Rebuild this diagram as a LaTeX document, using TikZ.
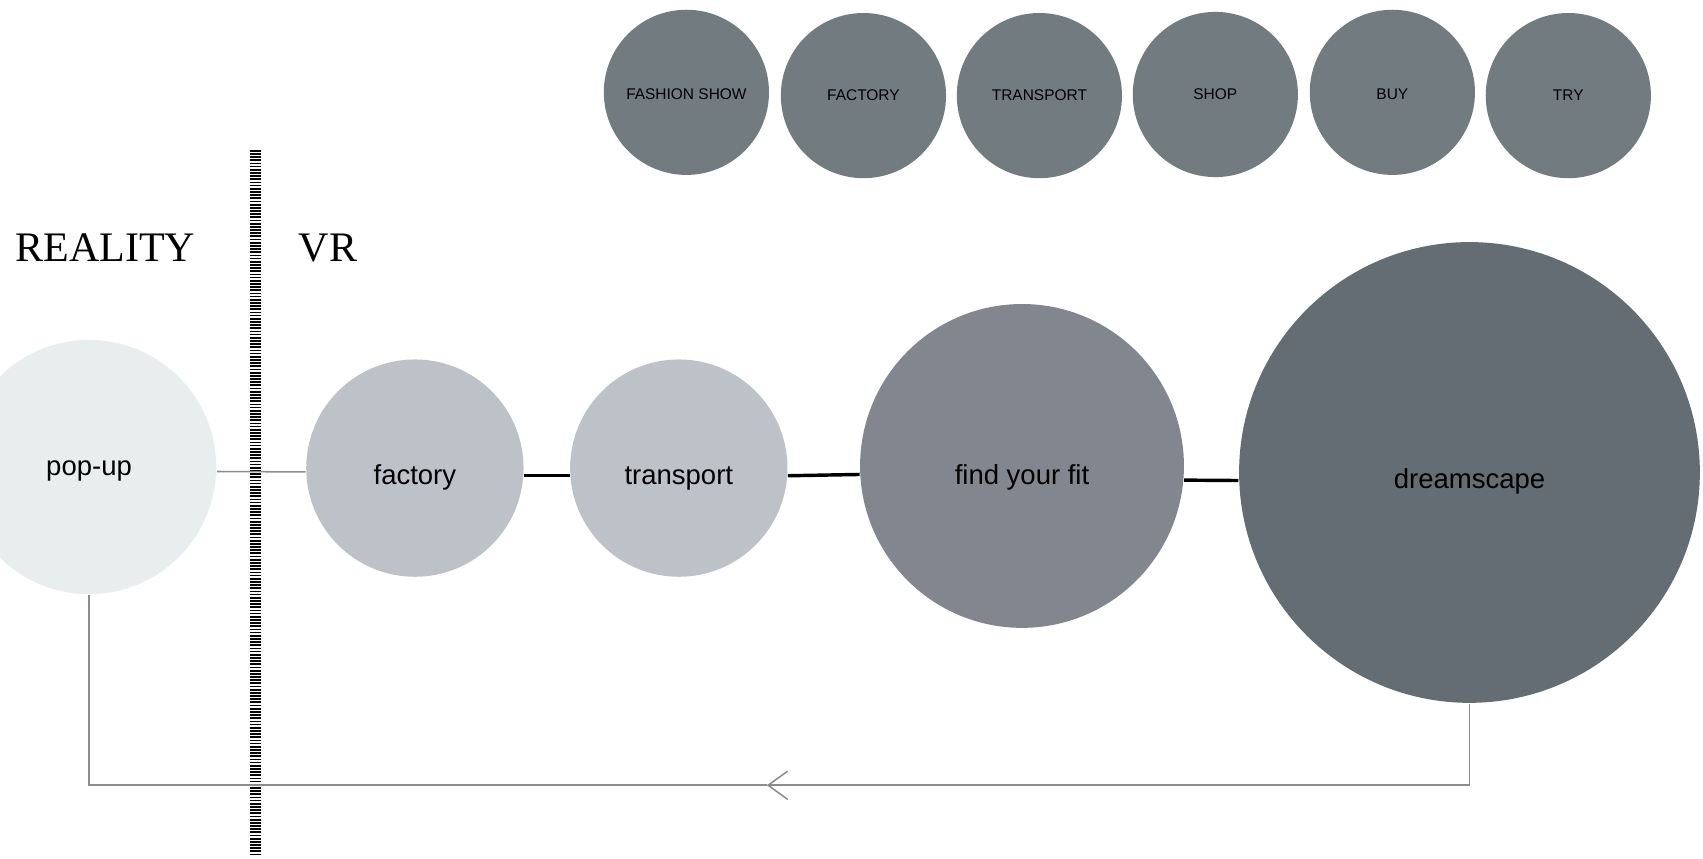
\documentclass[tikz,border=0pt]{standalone}
\usepackage{fontspec}
\setmainfont{Liberation Serif}
\setsansfont{Liberation Sans}
\usepackage{xcolor}
\usepackage{tikz}
\usetikzlibrary{arrows.meta,positioning}

\definecolor{topgray}{HTML}{727B80}
\definecolor{popgray}{HTML}{E8EEEE}
\definecolor{vrlight}{HTML}{BDC2C8}
\definecolor{fitgray}{HTML}{82868E}
\definecolor{dreamgray}{HTML}{636D73}
\definecolor{linegray}{HTML}{8C8C8C}

\begin{document}
\begin{tikzpicture}[x=0.01cm,y=-0.01cm,
    stage/.style={circle,inner sep=0pt,text height=10pt,text depth=1.5pt,font=\sffamily\fontsize{7.2}{8}\selectfont},
    topic/.style={circle,fill=topgray,minimum size=1.52cm,inner sep=0pt,font=\sffamily\fontsize{4.05}{5}\selectfont},
    heading/.style={font=\fontsize{11}{13}\selectfont},
    link/.style={black,line width=0.9pt},
    back/.style={linegray,line width=0.4pt}]

    \useasboundingbox (0,0) rectangle (1568,790);

    % The top row
	\node [topic,text height=4pt] at (632,85) (show) {FASHION SHOW};
	\node [topic] at (795,88) (factoryT) {FACTORY};
	\node [topic] at (957,88) (transportT) {TRANSPORT};
	\node [topic] at (1119,87) (shop) {SHOP};
	\node [topic,text height=4pt] at (1282,85) (buy) {BUY};
	\node [topic] at (1444,88) (try) {TRY};

    % Headings and divider
	\node [heading] at (97,228) (reality) {REALITY};
	\node [heading] at (302,228) (vr) {VR};
	\draw [black,line width=2.8pt,dash pattern=on 0.45pt off 0.38pt] (235,138) -- (235,788);

    % The graph
	\node [stage,fill=popgray,minimum size=2.34cm,text height=6pt] at (82,430) (pop) {pop-up};
	\node [stage,fill=vrlight,minimum size=2cm] at (382,431) (factory) {factory};
	\node [stage,fill=vrlight,minimum size=2cm] at (625,431) (transport) {transport};
	\node [stage,fill=fitgray,minimum size=2.98cm,text height=11pt] at (941,429) (fit) {find your fit};
	\node [stage,fill=dreamgray,minimum size=4.24cm] at (1353,435) (dream) {dreamscape};
	\coordinate (mid) at (706,723);

    % Graph edges
	\draw [back] (pop.-2.5) -- (factory.182);

	\path [link]
	(factory.-4) edge (transport.184)
	(transport.-4) edge (fit.183.5)
	(fit.-5) edge (dream.182);

	\draw [back,-{Straight Barb[length=0.18cm,width=0.26cm]}] (dream.south) |- (mid);
	\draw [back] (mid) -| (pop.south);

\end{tikzpicture}
\end{document}
